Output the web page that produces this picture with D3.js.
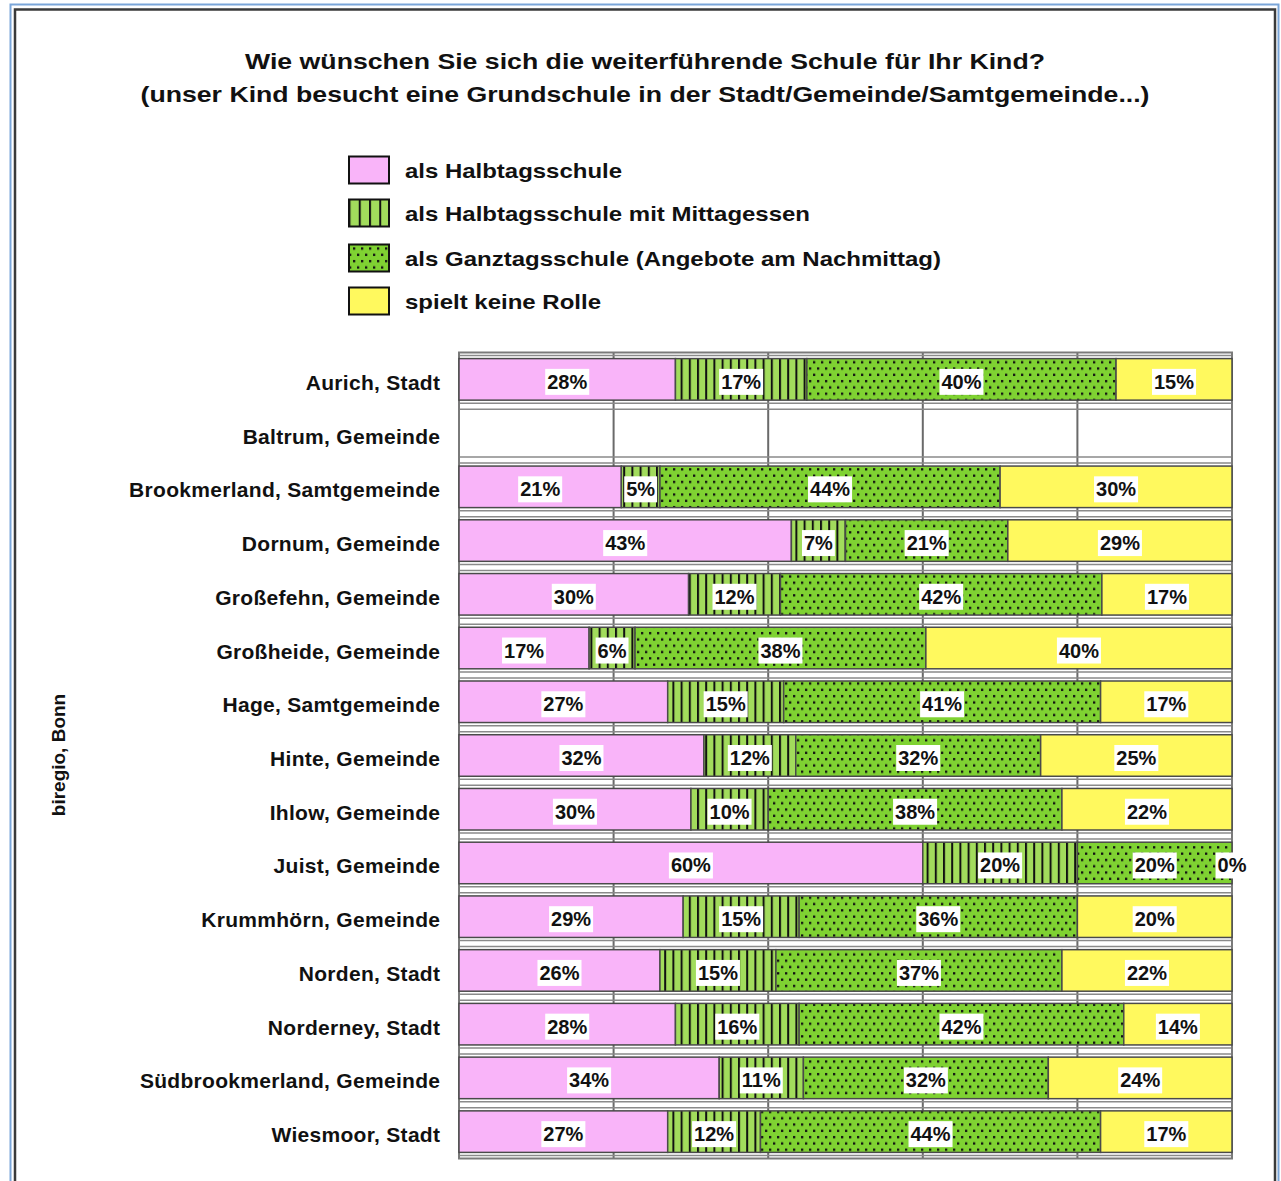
<!DOCTYPE html>
<html>
<head>
<meta charset="utf-8">
<script src="https://cdn.jsdelivr.net/npm/d3@7"></script>
<style>
  html, body { margin: 0; padding: 0; background: #fff; }
  svg { display: block; font-family: "Liberation Sans", Arial, Helvetica, sans-serif; }
</style>
</head>
<body>
<svg id="chart" width="1281" height="1181"></svg>
<script>
// ---------- data ----------
const titleLines = [
  "Wie wünschen Sie sich die weiterführende Schule für Ihr Kind?",
  "(unser Kind besucht eine Grundschule in der Stadt/Gemeinde/Samtgemeinde...)"
];
const seriesNames = [
  "als Halbtagsschule",
  "als Halbtagsschule mit Mittagessen",
  "als Ganztagsschule (Angebote am Nachmittag)",
  "spielt keine Rolle"
];
const categories = [
  "Aurich, Stadt", "Baltrum, Gemeinde", "Brookmerland, Samtgemeinde", "Dornum, Gemeinde",
  "Großefehn, Gemeinde", "Großheide, Gemeinde", "Hage, Samtgemeinde", "Hinte, Gemeinde",
  "Ihlow, Gemeinde", "Juist, Gemeinde", "Krummhörn, Gemeinde", "Norden, Stadt",
  "Norderney, Stadt", "Südbrookmerland, Gemeinde", "Wiesmoor, Stadt"
];
const halbtag  = [28, null, 21, 43, 30, 17, 27, 32, 30, 60, 29, 26, 28, 34, 27];
const mittag   = [17, null,  5,  7, 12,  6, 15, 12, 10, 20, 15, 15, 16, 11, 12];
const ganztag  = [40, null, 44, 21, 42, 38, 41, 32, 38, 20, 36, 37, 42, 32, 44];
const keine    = [15, null, 30, 29, 17, 40, 17, 25, 22,  0, 20, 22, 14, 24, 17];
const gridTicks = [0, 0.2, 0.4, 0.6, 0.8, 1.0];
const sourceLabel = "biregio, Bonn";

// ---------- styles ----------
const colors = { pink: "#f9b4f9", stripeGreen: "#a2dc5c", dotGreen: "#7fd232", yellow: "#fff95e" };

const svg = d3.select("#chart");
const defs = svg.append("defs");

function stripePattern(id, w) {
  const p = defs.append("pattern").attr("id", id).attr("patternUnits", "userSpaceOnUse")
    .attr("width", w).attr("height", 10);
  p.append("rect").attr("width", w).attr("height", 10).attr("fill", colors.stripeGreen);
  p.append("rect").attr("x", 0).attr("width", 2).attr("height", 10).attr("fill", "#111");
}
function dotPattern(id) {
  const p = defs.append("pattern").attr("id", id).attr("patternUnits", "userSpaceOnUse")
    .attr("width", 8).attr("height", 12.6);
  p.append("rect").attr("width", 8).attr("height", 12.6).attr("fill", colors.dotGreen);
  p.append("rect").attr("x", 1).attr("y", 2).attr("width", 2.3).attr("height", 2.3).attr("fill", "#111");
  p.append("rect").attr("x", 5).attr("y", 8.3).attr("width", 2.3).attr("height", 2.3).attr("fill", "#111");
}
stripePattern("stripes", 8.2);
stripePattern("stripesLegend", 10.25);
dotPattern("dots");

const fills = [colors.pink, "url(#stripes)", "url(#dots)", colors.yellow];
const legendFills = [colors.pink, "url(#stripesLegend)", "url(#dots)", colors.yellow];

// ---------- frame ----------
svg.append("rect").attr("x", 10.5).attr("y", 4.5).attr("width", 1268).attr("height", 1200)
  .attr("fill", "none").attr("stroke", "#7ba6d9").attr("stroke-width", 2);
svg.append("rect").attr("x", 15).attr("y", 9.5).attr("width", 1260).attr("height", 1200)
  .attr("fill", "none").attr("stroke", "#3a3a3a").attr("stroke-width", 2.5);

// ---------- title ----------
const titleSpec = [{ y: 69, len: 800 }, { y: 102, len: 1009 }];
svg.selectAll("text.title").data(titleLines).join("text")
  .attr("class", "title")
  .attr("x", 645).attr("y", (d, i) => titleSpec[i].y)
  .attr("text-anchor", "middle")
  .attr("font-size", 22).attr("font-weight", "bold").attr("fill", "#111")
  .attr("textLength", (d, i) => titleSpec[i].len).attr("lengthAdjust", "spacingAndGlyphs")
  .text(d => d);

// ---------- legend ----------
const legendY = [170, 213, 258, 301];
const legendLen = [217, 405, 536, 196];
const lg = svg.append("g").selectAll("g").data(seriesNames).join("g")
  .attr("transform", (d, i) => `translate(0,${legendY[i]})`);
lg.append("rect").attr("x", 349).attr("y", -13.5).attr("width", 40).attr("height", 27)
  .attr("fill", (d, i) => legendFills[i]).attr("stroke", "#111").attr("stroke-width", 2);
lg.append("text").attr("x", 405).attr("y", 8)
  .attr("font-size", 21).attr("font-weight", "bold").attr("fill", "#111")
  .attr("textLength", (d, i) => legendLen[i]).attr("lengthAdjust", "spacingAndGlyphs")
  .text(d => d);

// ---------- scales ----------
const x = d3.scaleLinear().domain([0, 1]).range([459, 1232]);
const y = d3.scaleBand().domain(categories).range([352.5, 1158.5])
  .paddingInner(0.227).paddingOuter(0.1135);

const rows = categories.map((c, i) => ({
  cat: c, has: halbtag[i] !== null,
  s0: halbtag[i] ?? 0, s1: mittag[i] ?? 0, s2: ganztag[i] ?? 0, s3: keine[i] ?? 0
}));
const keys = ["s0", "s1", "s2", "s3"];
const stacked = d3.stack().keys(keys).offset(d3.stackOffsetExpand)(rows);
const rawValues = [halbtag, mittag, ganztag, keine];

// ---------- grid ----------
const plot = svg.append("g");
plot.selectAll("line.vgrid").data(gridTicks).join("line")
  .attr("x1", d => x(d)).attr("x2", d => x(d))
  .attr("y1", 352.5).attr("y2", 1158.5)
  .attr("stroke", "#6a6a6a").attr("stroke-width", 2);

const step = y.step();
const boundaries = d3.range(categories.length + 1).map(i => 352.5 + i * step);
const hLines = [];
boundaries.forEach(b => {
  [b - 3, b + 3].forEach(v => { if (v > 352 && v < 1159) hLines.push(v); });
});
plot.selectAll("line.hgrid").data(hLines).join("line")
  .attr("x1", 459).attr("x2", 1232).attr("y1", d => d).attr("y2", d => d)
  .attr("stroke", "#8a8a8a").attr("stroke-width", 1.5);

plot.append("rect").attr("x", 459).attr("y", 352.5).attr("width", 773).attr("height", 806)
  .attr("fill", "none").attr("stroke", "#7a7a7a").attr("stroke-width", 2);

// ---------- bars ----------
const barG = svg.append("g");
stacked.forEach((layer, si) => {
  barG.selectAll(`rect.s${si}`).data(layer.filter(d => d.data.has && d[1] > d[0])).join("rect")
    .attr("x", d => x(d[0])).attr("width", d => x(d[1]) - x(d[0]))
    .attr("y", d => y(d.data.cat)).attr("height", y.bandwidth())
    .attr("fill", fills[si]).attr("stroke", "#4a4a4a").attr("stroke-width", 1.5);
});

// ---------- value labels ----------
const labG = svg.append("g");
stacked.forEach((layer, si) => {
  layer.forEach((d, ri) => {
    const v = rawValues[si][ri];
    if (v === null) return;
    const cx = (x(d[0]) + x(d[1])) / 2;
    const cy = y(d.data.cat) + y.bandwidth() / 2 + 2.5;
    const g = labG.append("g");
    const t = g.append("text").attr("x", cx).attr("y", cy + 7)
      .attr("text-anchor", "middle").attr("font-size", 20).attr("font-weight", "bold")
      .attr("fill", "#111").text(v + "%");
    const w = t.node().getComputedTextLength();
    g.insert("rect", "text").attr("x", cx - w / 2 - 2).attr("y", cy - 13)
      .attr("width", w + 4).attr("height", 26).attr("fill", "#fff");
  });
});

// ---------- category labels ----------
svg.append("g").selectAll("text").data(categories).join("text")
  .attr("x", 440.3).attr("y", d => y(d) + y.bandwidth() / 2 + 10.5)
  .attr("text-anchor", "end").attr("font-size", 21).attr("font-weight", "bold")
  .attr("letter-spacing", 0.3).attr("fill", "#111")
  .text(d => d);

// ---------- source label ----------
svg.append("text").attr("transform", "translate(65,755) rotate(-90)")
  .attr("text-anchor", "middle").attr("font-size", 19).attr("font-weight", "bold")
  .attr("fill", "#111").text(sourceLabel);
</script>
</body>
</html>
